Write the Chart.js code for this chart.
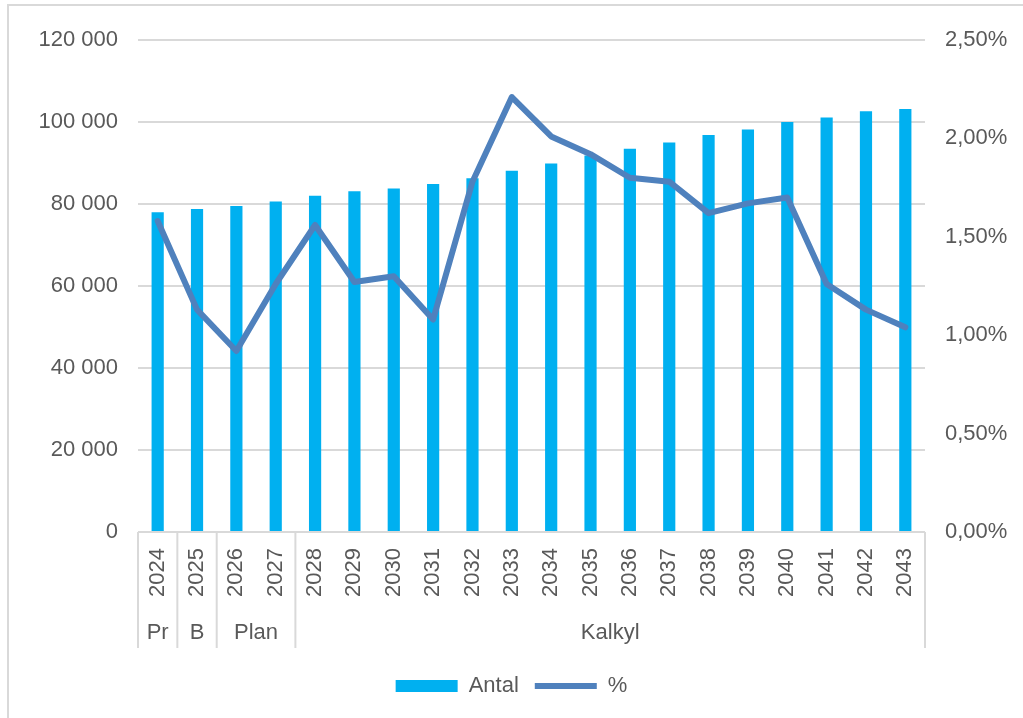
<!DOCTYPE html>
<html><head><meta charset="utf-8">
<script src="https://cdn.jsdelivr.net/npm/chart.js@4/dist/chart.umd.min.js"></script>
<style>
html,body{margin:0;padding:0;background:#fff;overflow:hidden;}
#frame{position:absolute;left:7px;top:4px;width:1030px;height:730px;border-left:2px solid #d9d9d9;border-top:2px solid #d9d9d9;}
#wrap{position:absolute;left:0;top:0;width:1023px;height:718px;}
</style></head>
<body>
<div id="frame"></div>
<div id="wrap"><canvas id="c" width="1023" height="718"></canvas></div>
<script>
const years = ['2024','2025','2026','2027','2028','2029','2030','2031','2032','2033','2034','2035','2036','2037','2038','2039','2040','2041','2042','2043'];
const antal = [78000, 78800, 79500, 80600, 82000, 83100, 83800, 84900, 86300, 88100, 89900, 91800, 93500, 95000, 96800, 98200, 100000, 101100, 102600, 103200];
const pct = [1.58, 1.13, 0.92, 1.26, 1.56, 1.27, 1.30, 1.08, 1.78, 2.21, 2.01, 1.92, 1.80, 1.78, 1.62, 1.67, 1.70, 1.26, 1.13, 1.04];
const groupNames = ['Pr','B','Plan','Kalkyl'];
const groupStart = [0, 1, 2, 4];
const groupEnd = [0, 1, 3, 19];

const TXT = '#595959';
const GRID = '#d9d9d9';
const FONT = 'Liberation Sans, Arial, sans-serif';
const FS = 22;

const groupPlugin = {
  id: 'groups',
  afterDraw(chart) {
    const ctx = chart.ctx, x = chart.scales.x, area = chart.chartArea;
    const y0 = area.bottom, y1 = area.bottom + 116;
    ctx.save();
    ctx.strokeStyle = GRID; ctx.lineWidth = 2;
    ctx.beginPath();
    ctx.moveTo(area.left, y0); ctx.lineTo(area.right, y0);
    const half = (x.getPixelForValue(1) - x.getPixelForValue(0)) / 2;
    const bounds = [x.getPixelForValue(0) - half];
    groupEnd.forEach(e => bounds.push(x.getPixelForValue(e) + half));
    bounds.forEach(b => { ctx.moveTo(b, y0); ctx.lineTo(b, y1); });
    ctx.stroke();
    ctx.fillStyle = TXT;
    ctx.font = FS + 'px ' + FONT;
    ctx.textAlign = 'center'; ctx.textBaseline = 'middle';
    groupNames.forEach((n, i) => {
      const cx = (x.getPixelForValue(groupStart[i]) + x.getPixelForValue(groupEnd[i])) / 2;
      ctx.fillText(n, cx, y0 + 101);
    });
    ctx.restore();
  }
};

new Chart(document.getElementById('c'), {
  data: {
    labels: years,
    datasets: [
      { type: 'line', label: '%', data: pct, yAxisID: 'y1', borderColor: '#4F81BD', backgroundColor: '#4F81BD',
        borderWidth: 6, pointRadius: 0, pointStyle: 'line', tension: 0, borderCapStyle: 'round', borderJoinStyle: 'round', order: 0 },
      { type: 'bar', label: 'Antal', data: antal, yAxisID: 'y', backgroundColor: '#00B0F0', borderWidth: 0,
        pointStyle: 'rect', categoryPercentage: 1, barPercentage: 0.31, order: 1 }
    ]
  },
  options: {
    responsive: false, animation: false,
    layout: { padding: { top: 40, left: 0, right: 0, bottom: 11 } },
    plugins: {
      tooltip: { enabled: false },
      legend: {
        position: 'bottom', reverse: true,
        labels: { usePointStyle: true, pointStyleWidth: 62, boxHeight: 12, color: TXT, font: { size: FS, family: FONT }, padding: 16 }
      }
    },
    scales: {
      x: {
        type: 'category', offset: true,
        grid: { display: false }, border: { display: false },
        ticks: { color: TXT, font: { size: FS, family: FONT }, minRotation: 90, maxRotation: 90, autoSkip: false, padding: 8 },
        afterFit(s) { s.height = 127; }
      },
      y: {
        position: 'left', min: 0, max: 120000,
        ticks: { stepSize: 20000, color: TXT, font: { size: FS, family: FONT }, padding: 20,
          callback: v => String(v).replace(/\B(?=(\d{3})+(?!\d))/g, ' ') },
        grid: { color: GRID, lineWidth: 2, drawTicks: false }, border: { display: false },
        afterFit(s) { s.width = 138; }
      },
      y1: {
        position: 'right', min: 0, max: 2.5,
        ticks: { stepSize: 0.5, color: TXT, font: { size: FS, family: FONT }, padding: 20,
          callback: v => v.toFixed(2).replace('.', ',') + '%' },
        grid: { display: false, drawTicks: false }, border: { display: false },
        afterFit(s) { s.width = 98; }
      }
    }
  },
  plugins: [groupPlugin]
});
</script>
</body></html>
